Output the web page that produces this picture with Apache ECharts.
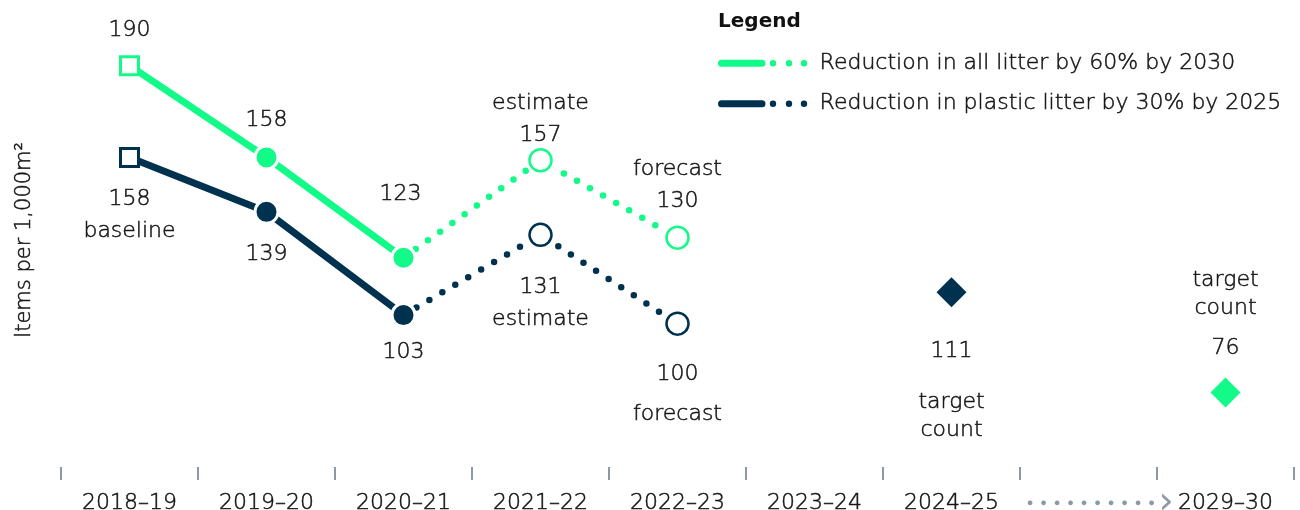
<!DOCTYPE html>
<html><head><meta charset="utf-8">
<script src="https://cdn.jsdelivr.net/npm/echarts@6/dist/echarts.min.js"></script>
<style>html,body{margin:0;padding:0;background:#fff}#c{width:1300px;height:510px}</style>
</head><body><div id="c"></div>
<script>
// ---- data ----
const categories = ['2018–19','2019–20','2020–21','2021–22','2022–23','2023–24','2024–25','…','2029–30'];
const allLitter = [190,158,123,157,130,null,null,null,76];
const plasticLitter = [158,139,103,131,100,null,111,null,null];
const pointKinds = ['baseline','actual','actual','estimate','forecast','','target','','target'];
const allNotes = ['','','','estimate','forecast','','','','target\ncount'];
const plasticNotes = ['baseline','','','estimate','forecast','','target\ncount','',''];
const seriesNames = ['Reduction in all litter by 60% by 2030','Reduction in plastic litter by 30% by 2025'];
const yAxisName = 'Items per 1,000m²';
const legendTitle = 'Legend';

// ---- style ----
const C_ALL = '#12fa88', C_PLA = '#00324f', TXT = '#161616';
const FONT = '"DejaVu Sans", sans-serif';
const FW = 200;
const GRAY = '#8c98a5';
const TB = {textBorderColor:TXT, textBorderWidth:0.5};
const labelLayout = {
  all:     {0:{d:9},1:{d:8},2:{d:34,dx:-3},3:{d:4,dy:7},4:{d:8},8:{d:13,gap:10}},
  plastic: {0:{d:15},1:{d:13},2:{d:8},3:{d:24},4:{d:22,gap:8},6:{d:28,gap:21}}
};
const rich = {
  v:{fontSize:22,lineHeight:32,color:TXT,fontFamily:FONT,fontWeight:FW,...TB},
  t:{fontSize:22,lineHeight:28,color:TXT,fontFamily:FONT,fontWeight:FW,...TB},
  g8:{fontSize:1,lineHeight:8}, g10:{fontSize:1,lineHeight:10}, g20:{fontSize:1,lineHeight:20}, g21:{fontSize:1,lineHeight:21}
};

const lastActual = pointKinds.lastIndexOf('actual');
const lastForecast = pointKinds.lastIndexOf('forecast');
const isSolid = i => pointKinds[i]==='baseline' || pointKinds[i]==='actual';
const isDotted = i => i>=lastActual && i<=lastForecast;
const val = v => (v==null ? '-' : v);

function markerStyle(kind, c){
  switch(kind){
    case 'baseline': return {symbol:'rect', size:18, halo:3, itemStyle:{color:'#fff',borderColor:c,borderWidth:3,opacity:1}};
    case 'actual': return {symbol:'circle', size:23, halo:0, itemStyle:{color:c,borderColor:'#fff',borderWidth:3,opacity:1}};
    case 'target': return {symbol:'diamond', size:30, halo:0, itemStyle:{color:c,borderWidth:0,opacity:1}};
    default: return {symbol:'circle', size:22, halo:8, itemStyle:{color:'#fff',borderColor:c,borderWidth:2.5,opacity:1}};
  }
}
function buildText(value, note, above, gap){
  const nl = note ? note.split('\n') : [];
  const tag = nl.length>1 ? 't' : 'v';
  const noteTxt = nl.map(s=>`{${tag}|${s}}`);
  const sp = gap ? [`{g${gap}| }`] : [];
  const v = `{v|${value}}`;
  return (above ? [...noteTxt, ...sp, v] : [v, ...sp, ...noteTxt]).join('\n');
}
function markerData(arr, notes, c, layout, above){
  return arr.map((v,i)=>{
    if(v==null) return '-';
    const m = markerStyle(pointKinds[i], c);
    const L = layout[i] || {d:12};
    return {value:v, symbol:m.symbol, symbolSize:m.size, itemStyle:m.itemStyle,
      label:{show:true, position: above?'top':'bottom', distance:L.d, offset:[L.dx||0,L.dy||0],
        align:'center', formatter: buildText(v, notes[i], above, L.gap), rich}};
  });
}
function haloData(arr){
  return arr.map((v,i)=>{
    if(v==null) return '-';
    const m = markerStyle(pointKinds[i], '#fff');
    return {value:v, symbol:m.symbol, symbolSize:m.size+m.halo, itemStyle:{color:'#fff',opacity:m.halo?1:0}};
  });
}
function lineSeries(name, arr, c, dotted){
  return {type:'line', name, z:2, showSymbol:false, silent:true, connectNulls:false,
    data: arr.map((v,i)=> (dotted ? isDotted(i) : (isSolid(i))) ? val(v) : '-'),
    lineStyle: dotted ? {color:c, width:6.5, type:[0,15], cap:'round'} : {color:c, width:7, cap:'butt', join:'round'},
    itemStyle:{color:c}};
}

const legendIcon = 'path://M3.5 0H44A3.5 3.5 0 0 1 44 7H3.5A3.5 3.5 0 0 1 3.5 0Z'
  + 'M51.8 3.5A3.2 3.2 0 1 0 58.2 3.5A3.2 3.2 0 1 0 51.8 3.5Z'
  + 'M67.8 3.5A3.2 3.2 0 1 0 74.2 3.5A3.2 3.2 0 1 0 67.8 3.5Z'
  + 'M82.8 3.5A3.2 3.2 0 1 0 89.2 3.5A3.2 3.2 0 1 0 82.8 3.5Z';

const chart = echarts.init(document.getElementById('c'), null, {renderer:'canvas'});
chart.setOption({
  animation:false,
  backgroundColor:'#fff',
  textStyle:{fontFamily:FONT},
  title:{text:legendTitle, left:718, top:12, padding:0, textStyle:{fontFamily:FONT, fontSize:20, fontWeight:'bold', color:'#111'}},
  legend:{orient:'vertical', left:718, top:52, padding:0, itemWidth:90, itemHeight:7, itemGap:18, selectedMode:false,
    textStyle:{fontFamily:FONT, fontSize:22, fontWeight:FW, color:TXT, padding:[0,0,0,7], ...TB},
    data:[{name:seriesNames[0], icon:legendIcon, itemStyle:{color:C_ALL, borderWidth:0}},
          {name:seriesNames[1], icon:legendIcon, itemStyle:{color:C_PLA, borderWidth:0}}]},
  grid:{left:61, right:6, top:37, bottom:43, containLabel:false, outerBoundsMode:'none'},
  xAxis:{type:'category', data:categories, boundaryGap:true,
    axisLine:{show:false},
    axisTick:{show:true, interval:0, length:13, lineStyle:{color:GRAY, width:2}},
    axisLabel:{interval:0, margin:23, fontSize:22, lineHeight:26, fontWeight:FW, color:TXT, fontFamily:FONT, ...TB,
      formatter: v => v==='…' ? '{p|}' + '{d|●}'.repeat(10) + '{a|›}' : v,
      rich:{p:{width:20, lineHeight:26}, d:{width:13.5, align:'center', fontSize:11, lineHeight:26, verticalAlign:'middle', color:GRAY, textBorderWidth:0},
            a:{fontSize:38, lineHeight:26, verticalAlign:'middle', color:GRAY, fontWeight:'normal', fontFamily:FONT, textBorderWidth:0}}},
    splitLine:{show:false}},
  yAxis:{type:'value', min:50, max:200, axisLine:{show:false}, axisTick:{show:false}, axisLabel:{show:false},
    splitLine:{show:false}, name:yAxisName, nameLocation:'middle', nameGap:26,
    nameTextStyle:{fontFamily:FONT, fontSize:21, fontWeight:FW, color:TXT, padding:[0,0,0,24], ...TB}},
  series:[
    lineSeries(seriesNames[0], allLitter, C_ALL, false),
    lineSeries(seriesNames[0], allLitter, C_ALL, true),
    lineSeries(seriesNames[1], plasticLitter, C_PLA, false),
    lineSeries(seriesNames[1], plasticLitter, C_PLA, true),
    {type:'scatter', name:'halo-all', z:3, silent:true, data:haloData(allLitter)},
    {type:'scatter', name:'halo-plastic', z:3, silent:true, data:haloData(plasticLitter)},
    {type:'scatter', name:seriesNames[0], z:4, data:markerData(allLitter, allNotes, C_ALL, labelLayout.all, true)},
    {type:'scatter', name:seriesNames[1], z:4, data:markerData(plasticLitter, plasticNotes, C_PLA, labelLayout.plastic, false)}
  ]
});
</script></body></html>
